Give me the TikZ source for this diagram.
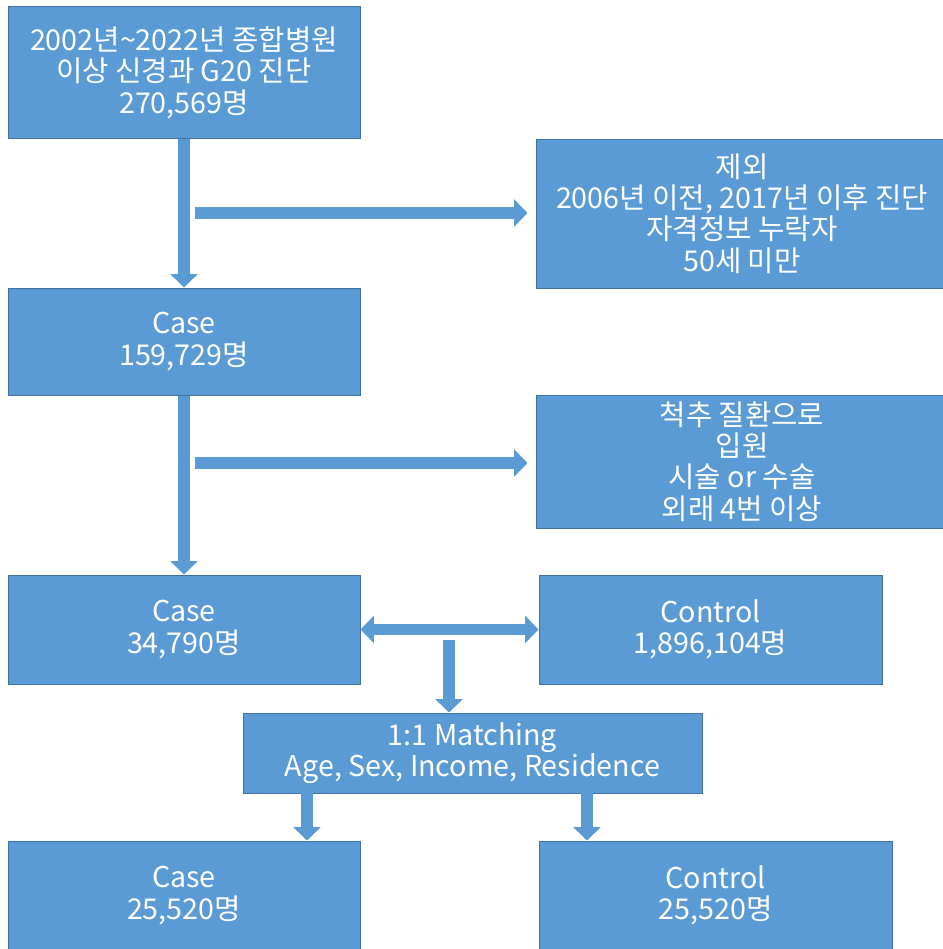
\documentclass[tikz,border=0pt]{standalone}
\usepackage{fontspec}
\usepackage{xcolor}
\usetikzlibrary{arrows.meta, positioning, calc}
\newfontfamily\kor{Noto Sans CJK KR}
\definecolor{boxblue}{HTML}{5B9BD5}
\definecolor{edgeblue}{HTML}{41719C}
\tikzset{
  box/.style={
    rectangle, draw=edgeblue, fill=boxblue, line width=0.75pt,
    text=white, align=center, inner sep=0pt,
    font=\kor\fontsize{21.5}{23.5}\selectfont
  },
  casebox/.style={box, minimum width=264pt, minimum height=81.75pt},
  sidebox/.style={box, minimum width=309pt},
  flow/.style={-{Triangle[length=10pt,width=20pt]}, line width=8.5pt, draw=boxblue},
  twoway/.style={flow, {Triangle[length=10pt,width=20pt]}-{Triangle[length=10pt,width=20pt]}},
}

\begin{document}
\begin{tikzpicture}[x=0.75pt, y=-0.75pt]
  \useasboundingbox (0,0) rectangle (942,949);

  \node[casebox, minimum height=98.25pt] (total) at (184,72.5)
    {2002년\textasciitilde2022년 종합병원\\이상 신경과 G20 진단\\270,569명};
  \node[sidebox, minimum height=111.75pt] (excl) at (742,213.5)
    {제외\\2006년 이전, 2017년 이후 진단\\자격정보 누락자\\50세 미만};
  \node[casebox, minimum height=80.25pt] (case1) at (184,341.5) {Case\\159,729명};
  \node[sidebox, minimum height=99.75pt] (spine) at (742,461.5)
    {척추 질환으로\\입원\\시술 or 수술\\외래 4번 이상};
  \node[casebox] (case2) at (184,629.5) {Case\\34,790명};
  \node[casebox, minimum width=257.25pt] (ctrl1) at (710.5,629.5) {Control\\1,896,104명};
  \node[box, minimum width=344.25pt, minimum height=60pt] (match) at (472.5,753)
    {1:1 Matching\\Age, Sex, Income, Residence};
  \node[casebox] (case3) at (184,895.5) {Case\\25,520명};
  \node[casebox, minimum width=264.75pt] (ctrl3) at (715.5,895.5) {Control\\25,520명};

  \coordinate (out1) at (195,213);
  \coordinate (out2) at (195,463);
  \coordinate (pick) at (449,640);
  \coordinate (split1) at (307,793);
  \coordinate (split2) at (587,793);

  \draw[flow] (total) -- (case1);
  \draw[flow, shorten >=6pt] (out1) -- (out1 -| excl.west);
  \draw[flow] (case1) -- (case2);
  \draw[flow, shorten >=6pt] (out2) -- (out2 -| spine.west);
  \draw[twoway] (case2) -- (ctrl1);
  \draw[flow] (pick) -- (pick |- match.north);
  \draw[flow] (split1) -- (split1 |- case3.north);
  \draw[flow] (split2) -- (split2 |- ctrl3.north);
\end{tikzpicture}
\end{document}
